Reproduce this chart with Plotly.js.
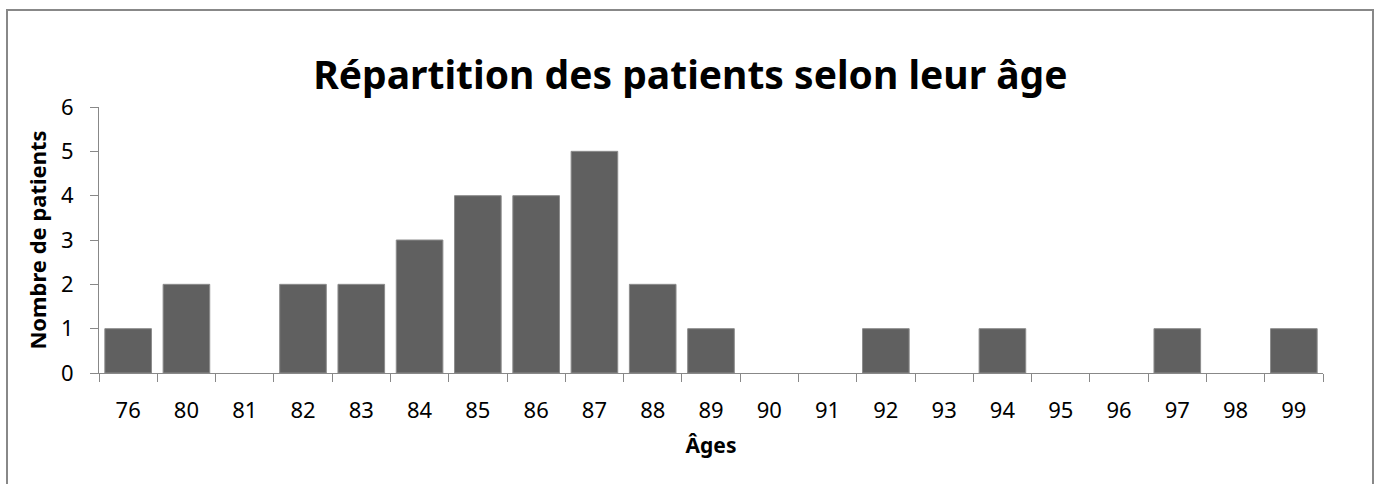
<!DOCTYPE html>
<html>
<head>
<meta charset="utf-8">
<script src="https://cdn.plot.ly/plotly-3.0.1.min.js"></script>
<style>html,body{margin:0;padding:0;background:#fff;}#chart{width:1378px;height:484px;}</style>
</head>
<body>
<div id="chart"></div>
<script>
const ages = ["76","80","81","82","83","84","85","86","87","88","89","90","91","92","93","94","95","96","97","98","99"];
const patients = [1,2,0,2,2,3,4,4,5,2,1,0,0,1,0,1,0,0,1,0,1];
const yTicks = [0,1,2,3,4,5,6];

const W = 1378, H = 484;
const L = 99, R = 55, T = 107, B = 111;
const pw = W - L - R, ph = H - T - B;

const trace = {
  type: 'bar',
  x: ages,
  y: patients,
  marker: {color: '#606060', line: {color: '#8c8c8c', width: patients.map(v => v > 0 ? 1 : 0)}},
  hoverinfo: 'x+y'
};

const layout = {
  width: W, height: H,
  margin: {l: L, r: R, t: T, b: B, pad: 0},
  paper_bgcolor: '#fff', plot_bgcolor: '#fff',
  showlegend: false,
  bargap: 0.2,
  font: {family: 'Noto Sans, Open Sans, sans-serif', color: '#000'},
  title: {
    text: '<b>Répartition des patients selon leur âge</b>',
    font: {size: 39, family: 'Noto Sans, sans-serif', color: '#000'},
    x: 0.501, xanchor: 'center', y: 1 - 75/H, yanchor: 'middle'
  },
  xaxis: {
    type: 'category',
    tickson: 'boundaries',
    ticks: 'outside', ticklen: 8, tickcolor: '#888', tickwidth: 1,
    showline: true, linecolor: '#888', linewidth: 1,
    showgrid: false, zeroline: false,
    tickfont: {size: 22, family: 'Noto Sans, sans-serif'},
    ticklabelstandoff: 18,
    title: {text: '<b>Âges</b>', font: {size: 21, family: 'Noto Sans, sans-serif'}, standoff: 14}
  },
  yaxis: {
    range: [0, 6],
    tickvals: yTicks,
    ticktext: yTicks.map(String),
    ticks: 'outside', ticklen: 8, tickcolor: '#888', tickwidth: 1,
    showline: true, linecolor: '#888', linewidth: 1,
    showgrid: false, zeroline: false,
    tickfont: {size: 22, family: 'Noto Sans, sans-serif'},
    ticklabelstandoff: 12,
    title: {text: '<b>Nombre de patients</b>', font: {size: 22, family: 'Noto Sans, sans-serif'}, standoff: 8}
  },
  shapes: [{
    type: 'rect', xref: 'paper', yref: 'paper', layer: 'below',
    x0: (7 - L)/pw, x1: (1373 - L)/pw,
    y0: (H - T - 520)/ph, y1: (H - T - 14)/ph,
    line: {color: '#888', width: 2}, fillcolor: 'rgba(0,0,0,0)'
  }]
};

Plotly.newPlot('chart', [trace], layout, {displayModeBar: false, staticPlot: true});
</script>
</body>
</html>
